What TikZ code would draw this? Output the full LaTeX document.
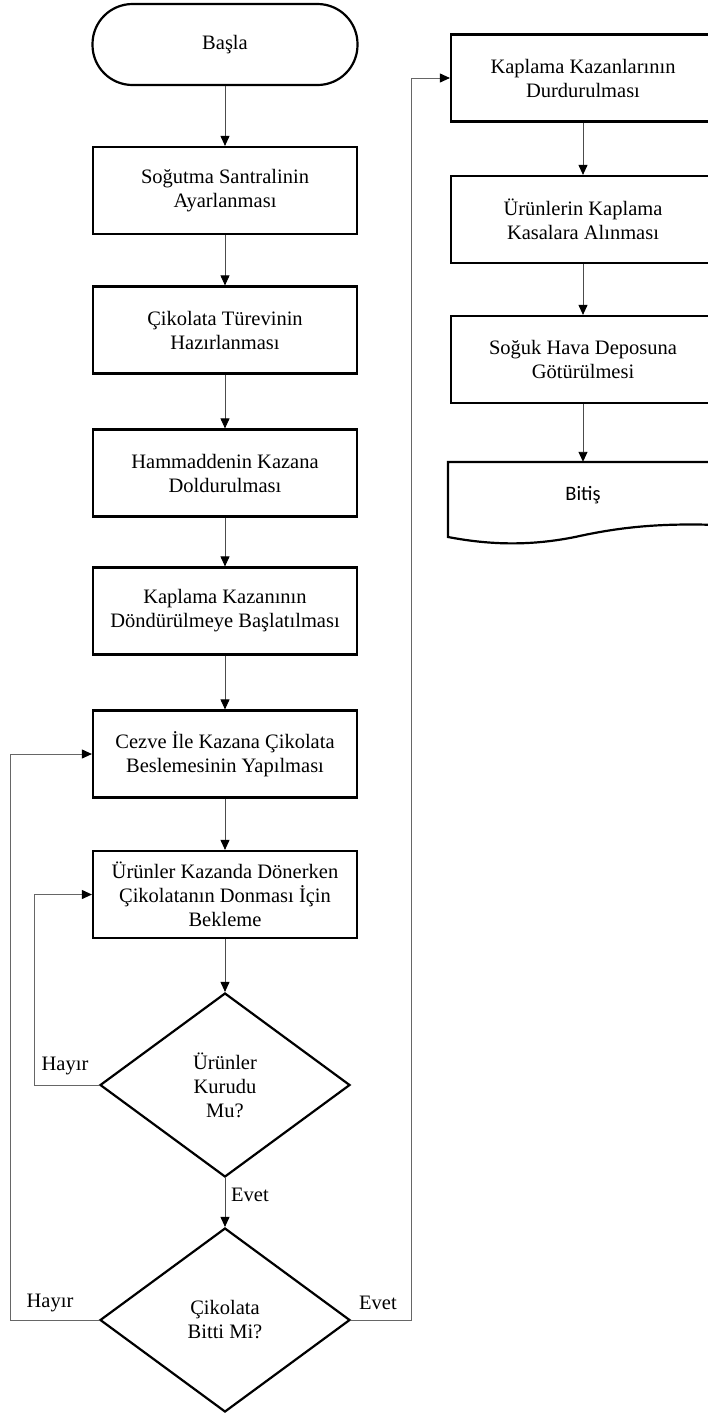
\documentclass[tikz,border=0pt]{standalone}
\usepackage{fontspec}
\setmainfont{Liberation Serif}
\newfontfamily\calibrifont{Carlito}
\usetikzlibrary{arrows.meta,shapes.geometric}
\begin{document}
\begin{tikzpicture}[x=1pt,y=-1pt,
  every node/.style={font=\fontsize{20.5pt}{24pt}\selectfont, align=center},
  procbox/.style={draw, line width=2.2pt, minimum width=264pt, minimum height=87pt, inner sep=2pt},
  termbox/.style={draw, line width=2.2pt, minimum width=265pt, minimum height=81pt, rounded corners=40pt},
  decbox/.style={draw, shape=diamond, line width=2.2pt, minimum width=250pt, minimum height=184pt, inner sep=0pt},
  lbl/.style={inner sep=0pt},
  conn/.style={draw=black!70, line width=0.9pt, -{Triangle[length=10pt,width=9pt,color=black]}},
  loopline/.style={draw=black!60, line width=0.9pt, -{Triangle[length=10pt,width=9pt,color=black]}},
]
\useasboundingbox (0,0) rectangle (708,1414);
\clip (0,0) rectangle (708,1414);

% left column
\node[termbox] (start) at (225,44.5) {Başla};
\node[procbox] (b1) at (225,190.5) {Soğutma Santralinin\\Ayarlanması};
\node[procbox] (b2) at (225,330) {Çikolata Türevinin\\Hazırlanması};
\node[procbox] (b3) at (225,473) {Hammaddenin Kazana\\Doldurulması};
\node[procbox] (b4) at (225,611) {Kaplama Kazanının\\Döndürülmeye Başlatılması};
\node[procbox] (b5) at (225,754) {Cezve İle Kazana Çikolata\\Beslemesinin Yapılması};
\node[procbox] (b6) at (225,894.5) {Ürünler Kazanda Dönerken\\Çikolatanın Donması İçin\\Bekleme};
\node[decbox] (d1) at (225,1085) {Ürünler\\Kurudu\\Mu?};
\node[decbox] (d2) at (225,1320) {Çikolata\\Bitti Mi?};

% right column
\node[procbox] (r1) at (583,78) {Kaplama Kazanlarının\\Durdurulması};
\node[procbox] (r2) at (583,219.5) {Ürünlerin Kaplama\\Kasalara Alınması};
\node[procbox] (r3) at (583,359.5) {Soğuk Hava Deposuna\\Götürülmesi};
\node[minimum width=270pt, minimum height=66pt, inner sep=0pt, font=\calibrifont\fontsize{20.5pt}{24pt}\selectfont] (bitis) at (583,495) {Bitiş};
\draw[line width=2.2pt, line join=miter] (448,537) -- (448,462) -- (718,462) -- (718,525)
  .. controls (660,523) and (620,527) .. (575,537)
  .. controls (530,546) and (490,545) .. (448,537) -- cycle;

% labels
\node[lbl] (h1) at (65,1066) {Hayır};
\node[lbl] (h2) at (50,1303) {Hayır};
\node[lbl] (e1) at (250,1195) {Evet};
\node[lbl] (e2) at (378,1303) {Evet};

% connectors
\path[conn] (start.south) -- (b1.north);
\path[conn] (b1.south) -- (b2.north);
\path[conn] (b2.south) -- (b3.north);
\path[conn] (b3.south) -- (b4.north);
\path[conn] (b4.south) -- (b5.north);
\path[conn] (b5.south) -- (b6.north);
\path[conn] (b6.south) -- (d1.north);
\path[conn] (d1.south) -- (d2.north);
\path[loopline] (d1.west) -- ++(-64,0) |- (b6.west);
\path[loopline] (d2.west) -- ++(-88,0) |- (b5.west);
\path[loopline] (d2.east) -- ++(60,0) |- (r1.west);
\path[conn] (r1.south) -- (r2.north);
\path[conn] (r2.south) -- (r3.north);
\path[conn] (r3.south) -- (bitis.north);
\end{tikzpicture}
\end{document}
